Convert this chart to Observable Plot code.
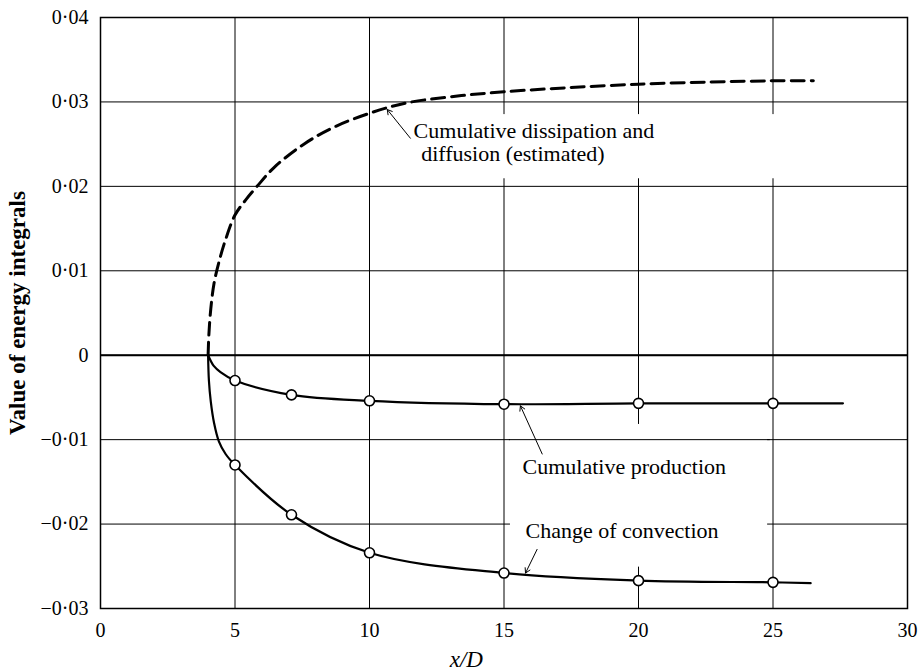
<!DOCTYPE html>
<html><head><meta charset="utf-8">
<script src="https://cdn.jsdelivr.net/npm/d3@7"></script>
<script src="https://cdn.jsdelivr.net/npm/@observablehq/plot@0.6"></script>
<style>body{margin:0;background:#fff} svg{display:block}</style>
</head><body><div id="chart"></div>
<script>
// Axis ticks
const xTicks = [0, 5, 10, 15, 20, 25, 30];
const yTicks = [-0.03, -0.02, -0.01, 0, 0.01, 0.02, 0.03, 0.04];
const yTickLabels = ["−0·03", "−0·02", "−0·01", "0", "0·01", "0·02", "0·03", "0·04"];

// Cumulative production (curve and measured circles)
const prodX = [4, 4.21, 4.46, 5, 7.1, 10, 15, 20, 25, 27.6];
const prodY = [0, -0.00127, -0.0020, -0.0030, -0.0047, -0.0054, -0.0058, -0.0057, -0.0057, -0.0057];
const prodPtX = [5, 7.1, 10, 15, 20, 25];
const prodPtY = [-0.0030, -0.0047, -0.0054, -0.0058, -0.0057, -0.0057];

// Change of convection
const convX = [4, 4.03, 4.1, 4.22, 4.4, 4.65, 5, 7.1, 10, 15, 20, 25, 26.4];
const convY = [0, -0.0030, -0.0055, -0.0080, -0.0102, -0.0117, -0.0130, -0.0189, -0.0234, -0.0258, -0.0267, -0.0269, -0.0270];
const convPtX = [5, 7.1, 10, 15, 20, 25];
const convPtY = [-0.0130, -0.0189, -0.0234, -0.0258, -0.0267, -0.0269];

// Cumulative dissipation and diffusion (estimated), dashed
const dissX = [4, 4.03, 4.1, 4.22, 4.4, 4.65, 5.0, 5.4, 5.82, 6.44, 7.56, 8.67, 10.04, 11.4, 13, 15, 20, 25, 26.5];
const dissY = [0, 0.0025, 0.0055, 0.0085, 0.0110, 0.0137, 0.0166, 0.0184, 0.0200, 0.0222, 0.0250, 0.0270, 0.0287, 0.0299, 0.0306, 0.0312, 0.0321, 0.0325, 0.0325];

// Annotations
const labels = [
  {text: "Cumulative dissipation and", x: 11.64, y: 0.02658},
  {text: "diffusion (estimated)", x: 11.92, y: 0.02381},
  {text: "Cumulative production", x: 15.69, y: -0.01327},
  {text: "Change of convection", x: 15.8, y: -0.0208}
];
const arrows = [
  {x1: 11.52, y1: 0.0257, x2: 10.66, y2: 0.0291},
  {x1: 16.42, y1: -0.0117, x2: 15.61, y2: -0.0060},
  {x1: 16.23, y1: -0.0230, x2: 15.80, y2: -0.0258}
];
const boxes = [
  {x1: 11.5, x2: 25.6, y1: 0.0209, y2: 0.0285},
  {x1: 15.24, x2: 24.8, y1: -0.0251, y2: -0.0082}
];

const toPts = (xs, ys) => xs.map((x, i) => ({x, y: ys[i]}));
const prod = toPts(prodX, prodY), prodPts = toPts(prodPtX, prodPtY);
const conv = toPts(convX, convY), convPts = toPts(convPtX, convPtY);
const diss = toPts(dissX, dissY);
const fmtY = d => yTickLabels[yTicks.findIndex(t => Math.abs(t - d) < 1e-9)];

const serif = "'Liberation Serif', 'DejaVu Serif', serif";
const chart = Plot.plot({
  width: 921, height: 671,
  marginLeft: 100, marginRight: 14, marginTop: 17, marginBottom: 63,
  style: {fontFamily: serif, fontSize: "20px", background: "#fff", color: "#000"},
  x: {domain: [0, 30]},
  y: {domain: [-0.03, 0.04]},
  marks: [
    Plot.ruleX(xTicks, {stroke: "#000", strokeWidth: 1}),
    Plot.ruleY(yTicks, {stroke: "#000", strokeWidth: 1}),
    Plot.rect(boxes, {x1: "x1", x2: "x2", y1: "y1", y2: "y2", fill: "#fff"}),
    Plot.ruleY([-0.01], {x1: 15.2, x2: 24.9, stroke: "#000", strokeWidth: 1}),
    Plot.ruleY([0], {stroke: "#000", strokeWidth: 2}),
    Plot.frame({stroke: "#000", strokeWidth: 1.5}),
    Plot.axisX({ticks: xTicks, tickFormat: d => String(d), tickSize: 0, tickPadding: 14, label: null, fontSize: 20}),
    Plot.axisY({ticks: yTicks, tickFormat: fmtY, tickSize: 0, tickPadding: 12, label: null, fontSize: 20}),
    Plot.text(["Value of energy integrals"], {frameAnchor: "left", dx: -92, rotate: -90, lineAnchor: "top", textAnchor: "middle", fontSize: 23, fontWeight: "bold"}),
    Plot.text(["x/D"], {x: 13.6, frameAnchor: "bottom", dy: 42, lineAnchor: "top", fontSize: 23, fontStyle: "italic"}),
    Plot.line(diss, {x: "x", y: "y", curve: "catmull-rom", stroke: "#000", strokeWidth: 3, strokeDasharray: "13,7"}),
    Plot.line(prod, {x: "x", y: "y", curve: "catmull-rom", stroke: "#000", strokeWidth: 2.2}),
    Plot.line(conv, {x: "x", y: "y", curve: "catmull-rom", stroke: "#000", strokeWidth: 2.2}),
    Plot.dot(prodPts, {x: "x", y: "y", r: 5, fill: "#fff", stroke: "#000", strokeWidth: 1.6}),
    Plot.dot(convPts, {x: "x", y: "y", r: 5, fill: "#fff", stroke: "#000", strokeWidth: 1.6}),
    Plot.arrow(arrows, {x1: "x1", y1: "y1", x2: "x2", y2: "y2", stroke: "#000", strokeWidth: 1, headLength: 8}),
    Plot.text(labels, {x: "x", y: "y", text: "text", textAnchor: "start", lineAnchor: "middle", fontSize: 22, fill: "#000"})
  ]
});
document.getElementById("chart").appendChild(chart);
</script>
</body></html>
